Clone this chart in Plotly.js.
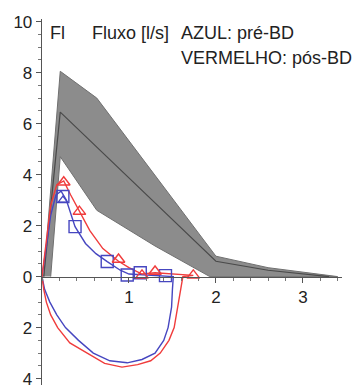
<!DOCTYPE html>
<html><head><meta charset="utf-8">
<script src="https://cdn.plot.ly/plotly-3.0.1.min.js"></script>
<style>html,body{margin:0;padding:0;background:#fff}#c{width:357px;height:385px}</style>
</head><body><div id="c"></div>
<script>
// Reference band (gray)
const bandX = [0.02, 0.21, 0.63, 2.0, 2.6, 3.4, 1.93, 1.3, 0.63, 0.21, 0.1];
const bandY = [0, 8.05, 7.0, 0.8, 0.35, 0, 0, 1.2, 2.6, 4.7, 0];
const meanX = [0.02, 0.21, 2.0, 2.6, 3.3];
const meanY = [0, 6.45, 0.6, 0.25, 0];
// Blue (pré-BD) curve
const blueX = [0, 0.05, 0.1, 0.16, 0.22, 0.28, 0.38, 0.5, 0.62, 0.75, 0.9, 1.0, 1.13, 1.25, 1.42,
               1.51, 1.5, 1.49, 1.45, 1.4, 1.3, 1.15, 0.98, 0.78, 0.59, 0.42, 0.27, 0.17, 0.09, 0.03, 0];
const blueY = [0, 1.2, 2.4, 3.2, 3.35, 3.0, 1.96, 1.3, 0.9, 0.59, 0.25, 0.1, 0.08, 0.05, 0.03,
               0, -0.5, -1.2, -2.0, -2.5, -3.0, -3.25, -3.38, -3.3, -3.0, -2.5, -2.0, -1.5, -1.0, -0.5, 0];
const blueSqX = [0.24, 0.38, 0.75, 0.98, 1.13, 1.42];
const blueSqY = [3.14, 1.96, 0.59, 0.06, 0.15, 0.04];
const blueTriX = [0.24];
const blueTriY = [3.0];
// Red (pós-BD) curve
const redX = [0, 0.05, 0.1, 0.17, 0.25, 0.33, 0.43, 0.55, 0.7, 0.88, 1.0, 1.15, 1.3, 1.5, 1.74,
              1.62, 1.6, 1.57, 1.52, 1.46, 1.36, 1.25, 1.1, 0.92, 0.72, 0.52, 0.32, 0.18, 0.1, 0.05, 0.02, 0];
const redY = [0, 1.5, 2.8, 3.6, 3.75, 3.2, 2.55, 1.8, 1.1, 0.6, 0.35, 0.1, 0.15, 0.1, 0.05,
              0, -0.4, -1.0, -2.0, -2.5, -3.0, -3.3, -3.45, -3.55, -3.4, -3.0, -2.6, -2.0, -1.5, -1.0, -0.5, 0];
const redTriX = [0.25, 0.43, 0.88, 1.15, 1.3, 1.74];
const redTriY = [3.7, 2.55, 0.67, 0.05, 0.2, 0.05];
// Ticks
const yTickVals = [-4, -2, 0, 2, 4, 6, 8, 10];
const yTickText = ["4", "2", "0", "2", "4", "6", "8", "10"];
const xTickVals = [1, 2, 3];
const xTickText = ["1", "2", "3"];

const BLUE = '#4646c0', RED = '#f03c3c';
const traces = [
  {x: bandX, y: bandY, mode: 'lines', fill: 'toself', fillcolor: '#8c8c8c', line: {color: '#707070', width: 1}, hoverinfo: 'skip'},
  {x: meanX, y: meanY, mode: 'lines', line: {color: '#4a4a4a', width: 1.2}},
  {x: blueX, y: blueY, mode: 'lines', line: {color: BLUE, width: 1.4}},
  {x: redX, y: redY, mode: 'lines', line: {color: RED, width: 1.4}},
  {x: blueSqX, y: blueSqY, mode: 'markers', marker: {symbol: 'square-open', size: 12, color: BLUE, line: {width: 1.4}}},
  {x: blueTriX, y: blueTriY, mode: 'markers', marker: {symbol: 'triangle-up-open', size: 8, color: BLUE, line: {width: 1.3}}},
  {x: redTriX, y: redTriY, mode: 'markers', marker: {symbol: 'triangle-up-open', size: 11, color: RED, line: {width: 1.4}}}
];
const yr = [-4.25, 10.1];
const layout = {
  width: 357, height: 385, showlegend: false,
  margin: {l: 42, r: 15, t: 19, b: 0},
  paper_bgcolor: '#fff', plot_bgcolor: '#fff',
  font: {family: 'Liberation Sans, Arial, sans-serif', size: 17, color: '#222'},
  xaxis: {range: [0, 3.45], anchor: 'free', position: (0 - yr[0]) / (yr[1] - yr[0]),
          showgrid: false, zeroline: false, showline: true, linecolor: '#555', linewidth: 1.3,
          tickvals: xTickVals, ticktext: xTickText, ticks: 'outside', ticklen: 5, tickcolor: '#555',
          minor: {dtick: 0.2, ticks: 'outside', ticklen: 3, tickcolor: '#777'},
          tickfont: {size: 17, color: '#222'}},
  yaxis: {range: yr, showgrid: false, zeroline: false, showline: true, linecolor: '#555', linewidth: 1.3,
          tickvals: yTickVals, ticktext: yTickText, ticks: 'outside', ticklen: 5, tickcolor: '#555',
          ticklabeloverflow: 'allow',
          minor: {dtick: 0.5, ticks: 'outside', ticklen: 3, tickcolor: '#777'},
          tickfont: {size: 17, color: '#222'}},
  annotations: [
    {x: 0.07, y: 9.57, xref: 'x', yref: 'y', text: 'Fl', showarrow: false, xanchor: 'left', font: {size: 18}},
    {x: 0.55, y: 9.57, xref: 'x', yref: 'y', text: 'Fluxo [l/s]', showarrow: false, xanchor: 'left', font: {size: 18}},
    {x: 1.58, y: 9.57, xref: 'x', yref: 'y', text: 'AZUL: pré-BD', showarrow: false, xanchor: 'left', font: {size: 18}},
    {x: 1.58, y: 8.59, xref: 'x', yref: 'y', text: 'VERMELHO: pós-BD', showarrow: false, xanchor: 'left', font: {size: 18}}
  ]
};
Plotly.newPlot('c', traces, layout, {staticPlot: true, displayModeBar: false});
</script></body></html>
